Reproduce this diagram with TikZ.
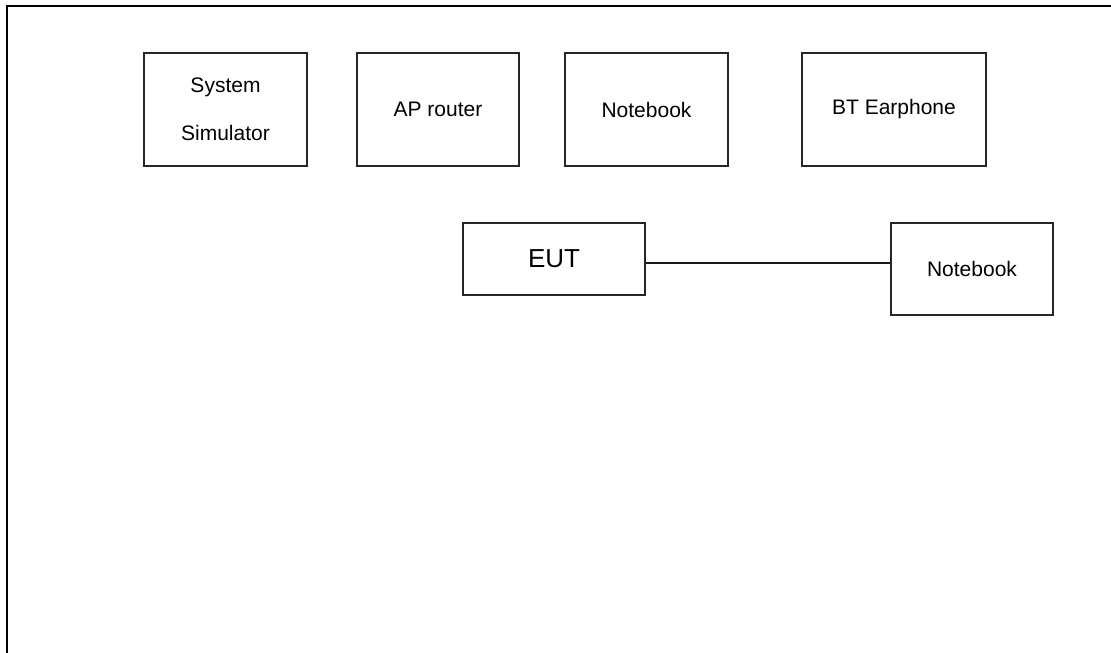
\documentclass[tikz,border=0pt]{standalone}
\usepackage{fontspec}
\setmainfont{Liberation Sans}
\begin{document}
\begin{tikzpicture}[x=0.75pt,y=-0.75pt,
  box/.style={draw=black!85,line width=0.9pt,rectangle,inner sep=0pt,align=center,
    font=\fontsize{15.75}{36}\selectfont},
  link/.style={draw=black!90,line width=1pt}]
\useasboundingbox (0,0) rectangle (1111,653);
% outer frame (left and top edges visible)
\draw[line width=2.2pt] (7,653) -- (7,6) -- (1111,6);
% top row
\node[box,minimum width=122.25pt,minimum height=84.75pt] (sim) at (225.5,109.5) {System\\Simulator};
\node[box,minimum width=121.5pt,minimum height=84.75pt] (ap) at (438,109.5) {AP router};
\node[box,minimum width=122.25pt,minimum height=84.75pt] (nb1) at (646.5,109.5) {Notebook};
\node[box,minimum width=138pt,minimum height=84.75pt] (bt) at (894,109.5) {BT Earphone};
% second row
\node[box,minimum width=136.5pt,minimum height=54pt,font=\fontsize{19.5}{24}\selectfont] (eut) at (554,259) {EUT};
\node[box,minimum width=121.5pt,minimum height=69pt] (nb2) at (972,269) {Notebook};
\draw[link] ([yshift=-3pt]eut.east) -- ([yshift=-3pt]eut.east -| nb2.west);
\end{tikzpicture}
\end{document}
